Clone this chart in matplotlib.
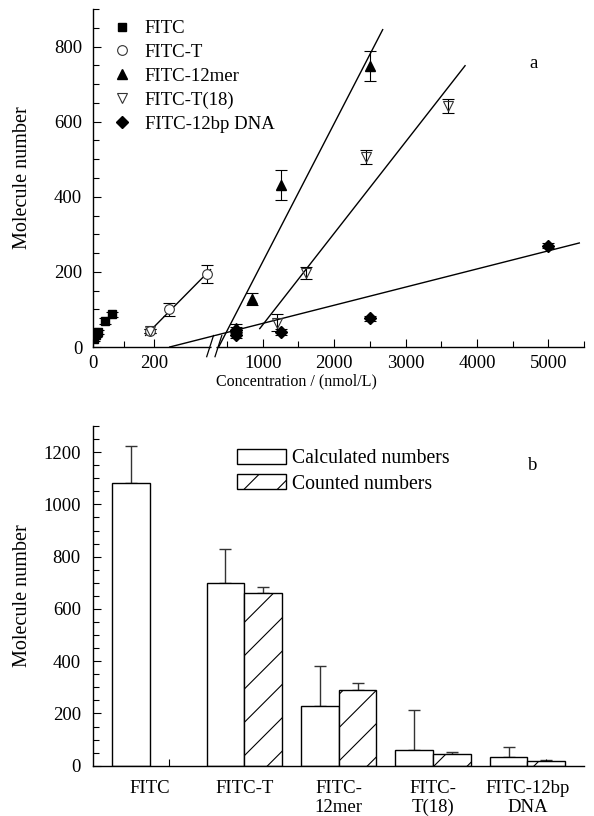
import numpy as np
import matplotlib
matplotlib.use("Agg")
import matplotlib.pyplot as plt
from matplotlib.lines import Line2D
from matplotlib.patches import Polygon
from matplotlib.ticker import FixedLocator, MultipleLocator

plt.rcParams['font.family'] = ['Liberation Serif', 'DejaVu Serif']
plt.rcParams['font.size'] = 13.5
plt.rcParams['hatch.linewidth'] = 0.8

# ── data, panel a ────────────────────────────────────────────────────────────
fitc_x = [3, 8, 15, 40, 62]
fitc_y = [22, 32, 40, 69, 87]
fitc_err = [6, 6, 6, 8, 6]

fitct_x = [187.5, 250, 375]
fitct_y = [43, 100, 194]
fitct_err = [6, 18, 24]

mer_x = [625, 850, 1250, 2500]
mer_y = [50, 129, 431, 747]
mer_err = [10, 16, 40, 40]

t18_x = [187.5, 1200, 1600, 2450, 3600]
t18_y = [43, 65, 196, 505, 642]
t18_err = [5, 22, 16, 19, 18]

dna_x = [625, 625, 1250, 2500, 5000]
dna_y = [45, 32, 40, 76, 270]
dna_err = [8, 8, 8, 6, 7]

# fitted lines (end points)
fitct_line_x, fitct_line_y = [172, 385], [31, 206]
mer_line_x, mer_line_y = [398, 2680], [0, 845]
t18_line_x, t18_line_y = [958, 3834], [49, 749]
dna_line_x, dna_line_y = [251, 5434], [0, 277]

# ── data, panel b ────────────────────────────────────────────────────────────
categories = ["FITC", "FITC-T", "FITC-\n12mer", "FITC-\nT(18)", "FITC-12bp\nDNA"]
calc = [1080, 700, 228, 60, 35]
calc_err = [144, 130, 155, 153, 36]
counted = [np.nan, 660, 290, 44, 19]
counted_err = [np.nan, 24, 25, 10, 3]

W, H = 594, 816
fig = plt.figure(figsize=(W / 100, H / 100), dpi=100)


def px_axes(left, top, right, bottom):
    return fig.add_axes([left / W, (H - bottom) / H, (right - left) / W, (bottom - top) / H])


# broken x scale: 0-385 stretched, 400-5500 compressed
XP = [0, 385, 400, 5500]
UP = [0, 117.4, 126.8, 491.4]


def fwd(x):
    return np.interp(x, XP, UP)


def inv(u):
    return np.interp(u, UP, XP)


# ── panel a ──────────────────────────────────────────────────────────────────
ax1 = px_axes(93.3, 9, 584, 347)
ax1.set_xscale('function', functions=(fwd, inv))
ax1.set_xlim(0, 5500)
ax1.set_ylim(0, 900)

lk = dict(color='black', lw=1.0)
ax1.plot(fitct_line_x, fitct_line_y, **lk)
ax1.plot(mer_line_x, mer_line_y, **lk)
ax1.plot(t18_line_x, t18_line_y, **lk)
ax1.plot(dna_line_x, dna_line_y, **lk)

ek = dict(ls='none', ecolor='black', elinewidth=0.8, capsize=4.5, capthick=0.8)
ax1.errorbar(fitc_x, fitc_y, yerr=fitc_err, fmt='s', ms=5.5, mfc='black', mec='black', **ek)
ax1.errorbar(fitct_x, fitct_y, yerr=fitct_err, fmt='o', ms=7, mfc='white', mec='#333333', mew=0.8, **ek)
ax1.errorbar(mer_x, mer_y, yerr=mer_err, fmt='^', ms=7.5, mfc='black', mec='black', **ek)
ax1.errorbar(t18_x, t18_y, yerr=t18_err, fmt='v', ms=7.5, mfc='none', mec='#333333', mew=0.8, **ek)
ax1.errorbar(dna_x, dna_y, yerr=dna_err, fmt='D', ms=6, mfc='black', mec='black', **ek)

for s in ['top', 'right']:
    ax1.spines[s].set_visible(False)
for s in ['left', 'bottom']:
    ax1.spines[s].set_linewidth(1.0)

ax1.xaxis.set_major_locator(FixedLocator([0, 200, 1000, 2000, 3000, 4000, 5000]))
ax1.xaxis.set_minor_locator(FixedLocator([100, 500, 1500, 2500, 3500, 4500, 5500]))
ax1.set_xticklabels(['0', '200', '1000', '2000', '3000', '4000', '5000'])
ax1.yaxis.set_major_locator(MultipleLocator(200))
ax1.yaxis.set_minor_locator(MultipleLocator(50))
ax1.tick_params(which='both', direction='in', width=0.8, top=False, right=False)
ax1.tick_params(which='major', length=6)
ax1.tick_params(which='minor', length=4)
ax1.tick_params(axis='x', pad=6)
ax1.tick_params(axis='y', pad=8)

ax1.text(296, H - 381, 'Concentration / (nmol/L)', transform=None,
         ha='center', va='center', fontsize=11.5)
ax1.set_ylabel('Molecule number', fontsize=14.5)
ax1.yaxis.set_label_coords(-0.124, 0.5)
ax1.text(534, H - 63, 'a', transform=None, ha='center', va='center')

handles = [
    Line2D([], [], ls='none', marker='s', ms=5.5, color='black'),
    Line2D([], [], ls='none', marker='o', ms=7, mfc='white', mec='#333333', mew=0.8),
    Line2D([], [], ls='none', marker='^', ms=7.5, color='black'),
    Line2D([], [], ls='none', marker='v', ms=7.5, mfc='white', mec='#333333', mew=0.8),
    Line2D([], [], ls='none', marker='D', ms=6, color='black'),
]
labels = ['FITC', 'FITC-T', 'FITC-12mer', 'FITC-T(18)', 'FITC-12bp DNA']
ax1.legend(handles, labels, loc='upper left', bbox_to_anchor=(111 / W, (H - 20) / H),
           bbox_transform=fig.transFigure, frameon=False, handlelength=1.2,
           handletextpad=0.6, labelspacing=0.36, borderpad=0, borderaxespad=0)


# break marks on the x axis
def fpx(x, y):
    return (x / W, (H - y) / H)


gap = Polygon([fpx(208.6, 357), fpx(215.2, 336), fpx(220.0, 336), fpx(213.4, 357)],
              closed=True, transform=fig.transFigure, facecolor='white', edgecolor='none',
              zorder=5)
fig.add_artist(gap)
for x0 in (206.7, 215.0):
    a, b = fpx(x0, 356.7), fpx(x0 + 6.8, 335.5)
    fig.add_artist(Line2D([a[0], b[0]], [a[1], b[1]], transform=fig.transFigure,
                          color='black', lw=0.9, zorder=6))

# ── panel b ──────────────────────────────────────────────────────────────────
ax2 = px_axes(93.3, 426, 584, 765.7)
xg = np.arange(len(categories))
bw = 0.4
calc_pos = xg - bw / 2
cnt_pos = xg + bw / 2
counted_arr = np.array(counted, dtype=float)
counted_err_arr = np.array(counted_err, dtype=float)
ok = ~np.isnan(counted_arr)

ax2.bar(calc_pos, calc, width=bw, color='white', edgecolor='black', lw=1.0,
        label='Calculated numbers', zorder=2)
ax2.bar(cnt_pos[ok], counted_arr[ok], width=bw, color='white', edgecolor='black', lw=1.0,
        hatch='/', label='Counted numbers', zorder=2)
ax2.errorbar(calc_pos, calc, yerr=[np.zeros(len(calc)), calc_err], ls='none',
             ecolor='#333333', elinewidth=1.0, capsize=4, capthick=1.0, zorder=1)
ax2.errorbar(cnt_pos[ok], counted_arr[ok], yerr=[np.zeros(ok.sum()), counted_err_arr[ok]],
             ls='none', ecolor='#333333', elinewidth=1.0, capsize=4, capthick=1.0, zorder=1)

ax2.set_xlim(-0.6, 4.6)
ax2.set_ylim(0, 1300)
for s in ['top', 'right']:
    ax2.spines[s].set_visible(False)
for s in ['left', 'bottom']:
    ax2.spines[s].set_linewidth(1.0)

ax2.set_xticks(xg)
ax2.set_xticklabels(categories, linespacing=1.15)
ax2.xaxis.set_minor_locator(FixedLocator(np.concatenate([calc_pos, cnt_pos])))
ax2.yaxis.set_major_locator(MultipleLocator(200))
ax2.yaxis.set_minor_locator(MultipleLocator(50))
ax2.tick_params(which='both', direction='in', width=0.8, top=False, right=False)
ax2.tick_params(axis='x', which='major', length=0, pad=10)
ax2.tick_params(axis='x', which='minor', length=5)
ax2.tick_params(axis='y', which='major', length=6, pad=9)
ax2.tick_params(axis='y', which='minor', length=4)
ax2.set_ylabel('Molecule number', fontsize=14.5)
ax2.yaxis.set_label_coords(-0.124, 0.5)
ax2.text(533, H - 465, 'b', transform=None, ha='center', va='center')

ax2.legend(loc='upper left', bbox_to_anchor=(237 / W, (H - 449) / H),
           bbox_transform=fig.transFigure, frameon=False, handlelength=2.5,
           handleheight=0.8, handletextpad=0.3, labelspacing=0.3, borderpad=0,
           borderaxespad=0, fontsize=14.2)

fig.savefig('out.png', dpi=100)
